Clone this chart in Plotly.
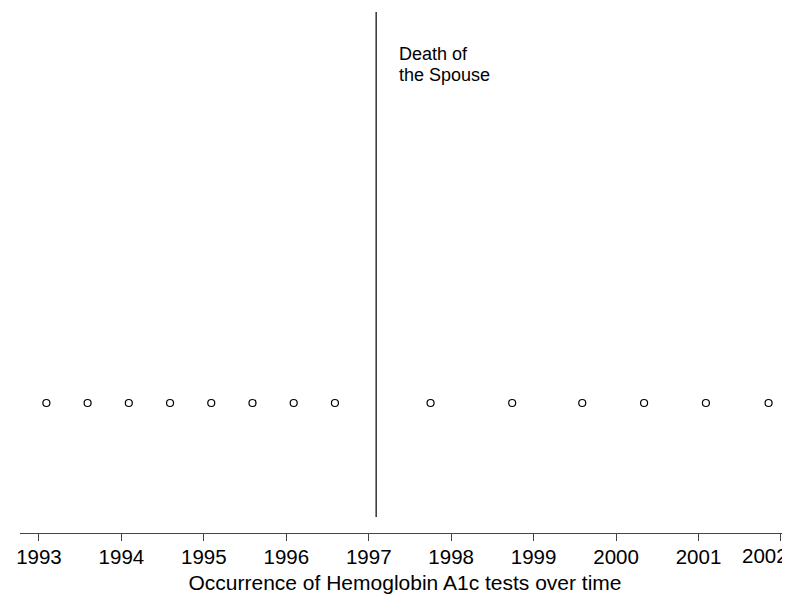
import plotly.graph_objects as go

# Hemoglobin A1c test dates (decimal years)
test_dates = [1993.09, 1993.59, 1994.09, 1994.59, 1995.09, 1995.59, 1996.09, 1996.59,
              1997.75, 1998.74, 1999.59, 2000.34, 2001.09, 2001.85]
test_level = [1] * len(test_dates)
event_date = 1997.09
event_lines = ["Death of", "the Spouse"]
tick_years = list(range(1993, 2003))
tick_labels = [str(y) for y in tick_years]

FONT = "Liberation Sans, Arial, Helvetica, sans-serif"
PLOT_H = 521

fig = go.Figure()
fig.add_trace(go.Scatter(
    x=test_dates, y=test_level, mode="markers",
    marker=dict(symbol="circle-open", size=7, color="black", line=dict(width=1.2)),
    showlegend=False, hoverinfo="x",
))

fig.add_shape(type="line", xref="x", yref="paper",
              x0=event_date, x1=event_date, y0=16 / PLOT_H, y1=1.0,
              line=dict(color="black", width=1.2))

for i, line in enumerate(event_lines):
    fig.add_annotation(x=event_date + 0.25, y=1 - (30 + 21 * i) / PLOT_H,
                       xref="x", yref="paper",
                       text=line, showarrow=False, xanchor="left", yanchor="top",
                       align="left", font=dict(family=FONT, size=18, color="black"))

# last tick label is pushed inward so it stays inside the page edge (as in the reference)
axis_text = tick_labels[:-1] + [""]
fig.add_annotation(x=tick_years[-1], y=0, xref="x", yref="paper",
                   text=tick_labels[-1], showarrow=False, xanchor="right", yanchor="top",
                   xshift=9, yshift=-9,
                   font=dict(family=FONT, size=20.5, color="black"))

fig.update_xaxes(
    range=[1992.77, 2002.11],
    tickmode="array", tickvals=tick_years, ticktext=axis_text,
    ticks="outside", ticklen=7, tickwidth=1, tickcolor="#444",
    ticklabelstandoff=-2, automargin=False,
    showline=True, linecolor="#444", linewidth=1,
    showgrid=False, zeroline=False,
    tickfont=dict(family=FONT, size=20.5, color="black"),
    title=dict(text="Occurrence of Hemoglobin A1c tests over time",
               font=dict(family=FONT, size=21, color="black"), standoff=9),
)
fig.update_yaxes(range=[0, 4.008], visible=False, showgrid=False, zeroline=False)

fig.update_layout(
    width=782, height=586,
    margin=dict(l=12, r=0, t=4, b=61),
    plot_bgcolor="white", paper_bgcolor="white",
    font=dict(family=FONT, color="black"),
)

fig.write_html("out.html")
